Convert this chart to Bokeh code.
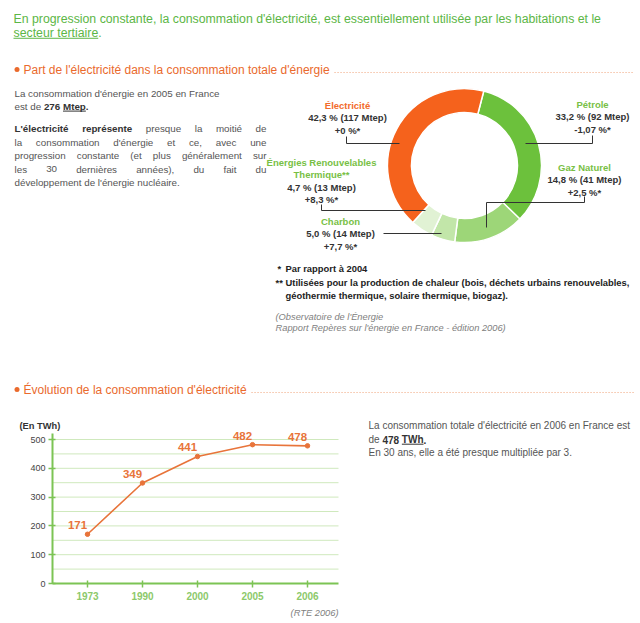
import math
from bokeh.plotting import figure
from bokeh.models import Range1d, FixedTicker, LabelSet, ColumnDataSource
from bokeh.layouts import column, row
from bokeh.embed import file_html
from bokeh.resources import INLINE
from bokeh.core.properties import value

FONT = "Liberation Sans"

# ------------------------------------------------------------------ data
energy_titles = [["Pétrole"], ["Gaz Naturel"], ["Charbon"],
                 ["Énergies Renouvelables", "Thermique**"], ["Électricité"]]
energy_share = [33.2, 14.8, 5.0, 4.7, 42.3]          # %
energy_mtep = [92, 41, 14, 13, 117]                   # Mtep
energy_change = ["-1,07", "+2,5", "+7,7", "+8,3", "+0"]  # % vs 2004

years = ["1973", "1990", "2000", "2005", "2006"]
consumption_twh = [171, 349, 441, 482, 478]
y_ticks = [0, 100, 200, 300, 400, 500]
grid_step = 50

# ------------------------------------------------------------------ styles
GREEN_HEAD = "#5cb646"
ORANGE_HEAD = "#ea6a2c"
GRAY = "#555555"
DARK = "#333333"
LABEL_GREEN = "#78bf45"
LABEL_ORANGE = "#f26b2b"
RING_COLORS = ["#6cc13c", "#9dd678", "#c2e6a9", "#e1f2d4", "#f5621c"]
TITLE_COLORS = [LABEL_GREEN, LABEL_GREEN, LABEL_GREEN, LABEL_GREEN, LABEL_ORANGE]
AXIS_GREEN = "#7cc454"
GRID_GREEN = "#cfe9bd"
LINE_ORANGE = "#e8743a"

# Arial / Liberation Sans advance widths (1/1000 em) for text layout
REG = {c: 556 for c in "0123456789"}
REG.update({' ': 278, "'": 191, ',': 278, '.': 278, '(': 333, ')': 333, '-': 333, '%': 889, '*': 389})
REG.update(dict(zip("abcdefghijklmnopqrstuvwxyz",
                    [556, 556, 500, 556, 556, 278, 556, 556, 222, 222, 500, 222, 833, 556, 556, 556, 556,
                     333, 500, 278, 556, 500, 722, 500, 500, 500])))
REG.update(dict(zip("ABCDEFGHIJKLMNOPQRSTUVWXYZ",
                    [667, 667, 722, 722, 667, 611, 778, 722, 278, 500, 667, 556, 833, 722, 778, 667, 778,
                     722, 667, 611, 722, 667, 944, 667, 667, 611])))
REG.update({'é': 556, 'è': 556, 'ê': 556, 'à': 556, 'É': 667})
BOLD = {c: 556 for c in "0123456789"}
BOLD.update({' ': 278, "'": 238, ',': 278, '.': 278, '(': 333, ')': 333, '-': 333, '%': 889, '*': 389})
BOLD.update(dict(zip("abcdefghijklmnopqrstuvwxyz",
                     [556, 611, 556, 611, 556, 333, 611, 611, 278, 278, 556, 278, 889, 611, 611, 611, 611,
                      389, 556, 333, 611, 556, 778, 556, 556, 500])))
BOLD.update(dict(zip("ABCDEFGHIJKLMNOPQRSTUVWXYZ",
                     [722, 722, 722, 722, 667, 611, 778, 722, 278, 556, 722, 611, 833, 722, 778, 667, 778,
                      722, 667, 611, 722, 667, 944, 667, 667, 611])))
BOLD.update({'é': 556, 'è': 556, 'ê': 556, 'à': 556, 'É': 667})


def tw(s, size, bold=False):
    tbl = BOLD if bold else REG
    return sum(tbl.get(c, 556) for c in s) * size / 1000.0


class Sheet:
    """Collects texts placed in page pixel coordinates (y downwards)."""

    def __init__(self, fig):
        self.fig = fig
        self.groups = {}
        self.ul = []

    def t(self, x, y, s, size, color, style="normal", align="left"):
        g = self.groups.setdefault((size, color, style, align), ([], [], []))
        g[0].append(x)
        g[1].append(-y)
        g[2].append(s)

    def runs(self, x, y, runs, size):
        for text, bold, ul, color in runs:
            w = tw(text, size, bold)
            self.t(x, y, text, size, color, "bold" if bold else "normal")
            if ul:
                self.ul.append((x, x + w, y + size * 0.47, color))
            x += w

    def justify(self, x, y, width, runs, size):
        words = []
        for text, bold, color in runs:
            for w in text.split():
                words.append((w, bold, color))
        total = sum(tw(w, size, b) for w, b, _ in words)
        gap = (width - total) / (len(words) - 1)
        for w, b, c in words:
            self.t(x, y, w, size, c, "bold" if b else "normal")
            x += tw(w, size, b) + gap

    def flush(self):
        for (size, color, style, align), (xs, ys, ss) in self.groups.items():
            self.fig.text(x=xs, y=ys, text=ss, text_font=value(FONT), text_font_size=f"{size}px",
                          text_font_style=style, text_color=color, text_align=align,
                          text_baseline="middle")
        if self.ul:
            self.fig.segment(x0=[u[0] for u in self.ul], x1=[u[1] for u in self.ul],
                             y0=[-u[2] for u in self.ul], y1=[-u[2] for u in self.ul],
                             line_color=[u[3] for u in self.ul], line_width=1)


def blank_fig(w, h, xr, yr):
    f = figure(width=w, height=h, x_range=Range1d(*xr), y_range=Range1d(*yr),
               x_axis_type=None, y_axis_type=None, toolbar_location=None,
               output_backend="svg", min_border=0, title=None)
    f.outline_line_color = None
    f.xgrid.visible = False
    f.ygrid.visible = False
    return f


# ------------------------------------------------------------------ top part
TOP_H = 415
tp = blank_fig(640, TOP_H, (0, 640), (-TOP_H, 0))
S = Sheet(tp)

# headline
S.t(13, 18, "En progression constante, la consommation d'électricité, est essentiellement "
            "utilisée par les habitations et le", 12.3, GREEN_HEAD)
S.runs(13, 32, [("secteur tertiaire", False, True, GREEN_HEAD), (".", False, False, GREEN_HEAD)], 12.3)


# section headers
def section(y, text):
    S.t(23, y, text, 12, ORANGE_HEAD)
    x_end = 23 + tw(text, 12) + 5
    tp.scatter(x=[16.5], y=[-y], size=5, color=ORANGE_HEAD, line_color=None)
    tp.segment(x0=[x_end], x1=[634], y0=[-(y + 3)], y1=[-(y + 3)], line_color="#f0a37a",
               line_width=1.2, line_dash="1 2")


section(69, "Part de l'électricité dans la consommation totale d'énergie")
section(389, "Évolution de la consommation d'électricité")

# left paragraph
PS = 9.8
S.t(14, 93, "La consommation d'énergie en 2005 en France", PS, GRAY)
S.runs(14, 106, [("est de ", False, False, GRAY), ("276", True, False, DARK), (" ", True, False, DARK),
                 ("Mtep", True, True, DARK), (".", True, False, DARK)], PS)
PW = 252
S.justify(14, 128, PW, [("L'électricité représente", True, DARK), ("presque la moitié de", False, GRAY)], PS)
S.justify(14, 141.5, PW, [("la consommation d'énergie et ce, avec une", False, GRAY)], PS)
S.justify(14, 155, PW, [("progression constante (et plus généralement sur", False, GRAY)], PS)
S.justify(14, 168.5, PW, [("les 30 dernières années), du fait du", False, GRAY)], PS)
S.t(14, 182, "développement de l'énergie nucléaire.", PS, GRAY)

# donut
CX, CY, R_OUT, R_IN = 464, 165, 77, 53
a0 = math.radians(75.5)
starts, ends, acc = [], [], 0.0
for s in energy_share:
    starts.append(a0 - acc / 100 * 2 * math.pi)
    acc += s
    ends.append(a0 - acc / 100 * 2 * math.pi)
tp.annular_wedge(x=CX, y=-CY, inner_radius=R_IN, outer_radius=R_OUT,
                 start_angle=starts, end_angle=ends, direction="clock",
                 fill_color=RING_COLORS, line_color="white", line_width=1.5)

# donut labels (centre x, first line y) and leader lines
label_pos = [(592, 104), (584, 167), (340, 221), (321, 162), (347, 105)]
leaders = [[(592, 135), (592, 143), (525, 143)],
           [(584, 196), (584, 202), (486, 202), (486, 227)],
           [(383, 233), (441, 233)],
           [(321, 204), (321, 210), (425, 210)],
           [(346, 136), (346, 143), (399, 143)]]
LS = 9.5
LH = 12.4
for i, (cx, y0) in enumerate(label_pos):
    lines = [(t, TITLE_COLORS[i]) for t in energy_titles[i]]
    lines.append((f"{energy_share[i]:.1f}".replace(".", ",") + f" % ({energy_mtep[i]} Mtep)", DARK))
    lines.append((f"{energy_change[i]} %*", DARK))
    for k, (txt, col) in enumerate(lines):
        S.t(cx, y0 + k * LH, txt, LS, col, "bold", "center")
tp.multi_line(xs=[[p[0] for p in L] for L in leaders], ys=[[-p[1] for p in L] for L in leaders],
              line_color=DARK, line_width=1)

# footnotes
FS = 9.4
S.t(277, 268, "*", FS, "#222222", "bold")
S.t(285, 268, "Par rapport à 2004", FS, "#222222", "bold")
S.t(275, 282, "**", FS, "#222222", "bold")
S.t(285, 282, "Utilisées pour la production de chaleur (bois, déchets urbains renouvelables,", FS,
    "#222222", "bold")
S.t(285, 295, "géothermie thermique, solaire thermique, biogaz).", FS, "#222222", "bold")
S.t(275, 316, "(Observatoire de l'Énergie", 9.3, "#808080", "italic")
S.t(275, 327, "Rapport Repères sur l'énergie en France - édition 2006)", 9.3, "#808080", "italic")
S.flush()

# ------------------------------------------------------------------ line chart
BOTTOM_H = 623 - TOP_H
LEFT_W = 340
AX_LEFT_PX, AX_RIGHT_PX, ZERO_PX = 52, 338, 583   # screen layout of the chart box
STEP_PX, FIRST_PX, PX_PER_UNIT = 55.0, 87.0, 0.288


def dx(px):
    return (px - FIRST_PX) / STEP_PX


def dy(py):
    return (ZERO_PX - py) / PX_PER_UNIT


idx = list(range(len(years)))
lp = figure(width=LEFT_W, height=BOTTOM_H,
            x_range=Range1d(dx(0), dx(LEFT_W)), y_range=Range1d(dy(623), dy(TOP_H)),
            toolbar_location=None, output_backend="svg", title=None, min_border=0)
lp.outline_line_color = None
lp.xgrid.visible = False
lp.ygrid.visible = False
x_lo, x_hi = dx(AX_LEFT_PX), dx(AX_RIGHT_PX)
y_hi = dy(433)

grid_vals = list(range(grid_step, y_ticks[-1] + 1, grid_step))
lp.segment(x0=[x_lo] * len(grid_vals), x1=[x_hi] * len(grid_vals), y0=grid_vals, y1=grid_vals,
           line_color=GRID_GREEN, line_width=1)

xa = lp.xaxis[0]
ya = lp.yaxis[0]
xa.fixed_location = 0
xa.bounds = (x_lo, x_hi)
ya.fixed_location = x_lo
ya.bounds = (0, y_hi)
xa.ticker = FixedTicker(ticks=idx)
xa.major_label_overrides = {i: y for i, y in zip(idx, years)}
ya.ticker = FixedTicker(ticks=y_ticks)
for ax in (xa, ya):
    ax.axis_line_color = AXIS_GREEN
    ax.axis_line_width = 2
    ax.major_tick_line_color = AXIS_GREEN
    ax.major_tick_line_width = 1.5
    ax.major_tick_in = 3
    ax.major_tick_out = 4
    ax.minor_tick_line_color = None
    ax.major_label_text_font = FONT
xa.major_label_text_font_size = "10px"
xa.major_label_text_font_style = "bold"
xa.major_label_text_color = "#8cc96a"
xa.major_label_standoff = 4
ya.major_label_text_font_size = "9px"
ya.major_label_text_color = "#444444"
ya.major_label_standoff = 3

src = ColumnDataSource(dict(x=idx, y=consumption_twh, label=[str(v) for v in consumption_twh]))
lp.line(x="x", y="y", source=src, line_color=LINE_ORANGE, line_width=1.6)
lp.scatter(x="x", y="y", source=src, size=4.5, color=LINE_ORANGE)
lp.add_layout(LabelSet(x="x", y="y", text="label", source=src, x_offset=-10, y_offset=9,
                       text_font=value(FONT), text_font_size="11.5px", text_font_style="bold",
                       text_color=LINE_ORANGE, text_align="center", text_baseline="middle"))
lp.text(x=[dx(19)], y=[dy(425)], text=["(En TWh)"], text_font=value(FONT), text_font_size="9.3px",
        text_font_style="bold", text_color=DARK, text_align="left", text_baseline="middle")
lp.text(x=[x_hi], y=[dy(612)], text=["(RTE 2006)"], text_font=value(FONT), text_font_size="9.3px",
        text_font_style="italic", text_color="#808080", text_align="right", text_baseline="middle")

# ------------------------------------------------------------------ right text
rp = blank_fig(640 - LEFT_W, BOTTOM_H, (LEFT_W, 640), (-623, -TOP_H))
R = Sheet(rp)
RS = 10
R.t(368, 425, "La consommation totale d'électricité en 2006 en France est", RS, GRAY)
R.runs(368, 439, [("de ", False, False, GRAY), ("478", True, False, DARK), (" ", True, False, DARK),
                  ("TWh", True, True, DARK), (".", True, False, DARK)], RS)
R.t(368, 452, "En 30 ans, elle a été presque multipliée par 3.", RS, GRAY)
R.flush()

layout = column(tp, row(lp, rp))
open("out.html", "w").write(file_html(layout, INLINE))
